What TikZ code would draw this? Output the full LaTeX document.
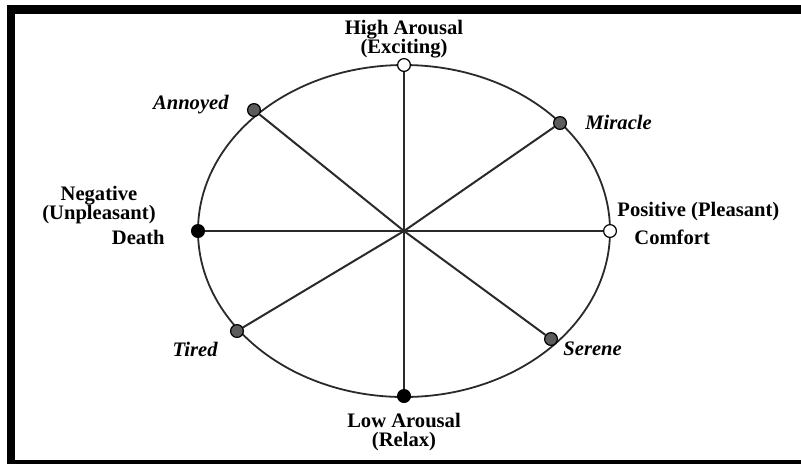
\documentclass[tikz,border=0pt]{standalone}
\usepackage{fontspec}
\setmainfont{Liberation Serif}
\usepackage{tikz}
\usetikzlibrary{positioning, calc}
\definecolor{spoke}{HTML}{2A2A2A}
\definecolor{mood}{HTML}{5C5C5C}

\begin{document}
\begin{tikzpicture}[
  x=0.5pt, y=-0.5pt,
  dot/.style={circle, draw=black, line width=0.6pt, inner sep=0pt, minimum size=6.4pt},
  whitedot/.style={dot, fill=white},
  blackdot/.style={dot, fill=black},
  greydot/.style={dot, fill=mood},
  lbl/.style={font=\fontsize{10.3}{9.6}\selectfont\bfseries, align=center, inner sep=0pt},
  emo/.style={font=\fontsize{10.3}{9.6}\selectfont\bfseries\itshape, inner sep=0pt},
  spk/.style={draw=spoke, line width=1pt}
]
  \clip (0,0) rectangle (801,463);

  % scanned frame (right side cut off)
  \draw[line width=4.3pt, line join=miter] (806,9.5) -- (11,9.5) -- (11,464) -- (806,464);

  % circumplex
  \coordinate (o) at (404,231);
  \draw[spk, line width=0.9pt] (o) ellipse (206 and 166);

  % points on the rim
  \node[whitedot] (high) at (404,65) {};
  \node[blackdot] (low) at (404,396) {};
  \node[blackdot] (death) at (198,231) {};
  \node[whitedot] (comfort) at (610,231) {};
  \node[greydot] (annoyed) at (254,110) {};
  \node[greydot] (miracle) at (560,123) {};
  \node[greydot] (tired) at (237,331) {};
  \node[greydot] (serene) at (551,339) {};

  \foreach \p in {high, low, death, comfort, annoyed, miracle, tired, serene}
    \draw[spk] (o) -- (\p);

  % axis labels
  \node[lbl] (highlbl) at (404,39) {High Arousal\\(Exciting)};
  \node[lbl] (lowlbl) at (404,432) {Low Arousal\\(Relax)};
  \node[lbl] (neglbl) at (99,205) {Negative\\(Unpleasant)};
  \node[lbl, anchor=east] (deathlbl) at (165,237) {Death};
  \node[lbl, anchor=west] (poslbl) at (617,212) {Positive (Pleasant)};
  \node[lbl, anchor=west] (comfortlbl) at (634,237) {Comfort};

  % emotion words
  \node[emo, anchor=east] (annoyedlbl) at (229,105) {Annoyed};
  \node[emo, anchor=west] (miraclelbl) at (585,122) {Miracle};
  \node[emo, anchor=east] (tiredlbl) at (218,349) {Tired};
  \node[emo, anchor=west] (serenelbl) at (563,349) {Serene};
\end{tikzpicture}
\end{document}
